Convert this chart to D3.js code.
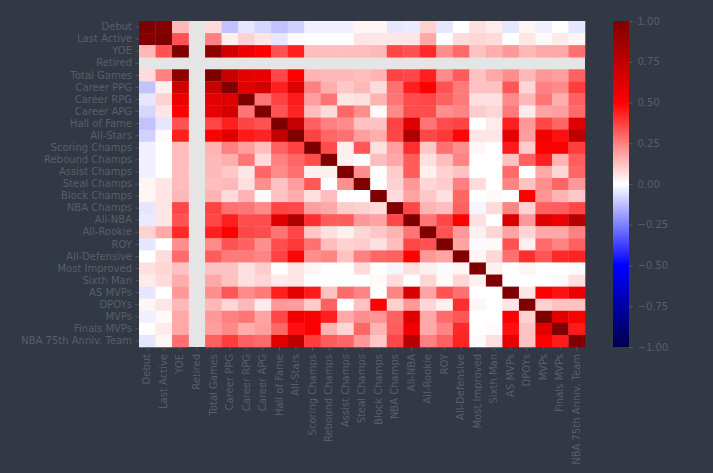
<!DOCTYPE html>
<html>
<head>
<meta charset="utf-8">
<script src="https://cdn.jsdelivr.net/npm/d3@7"></script>
<style>
  html, body { margin: 0; padding: 0; background: #323844; }
  svg { display: block; }
  text { font-family: "DejaVu Sans", sans-serif; font-size: 10px; fill: #5a5f68; }
</style>
</head>
<body>
<svg id="chart"></svg>
<script>
// variable names, same order on both axes
const labels = [
  'Debut', 'Last Active', 'YOE', 'Retired', 'Total Games', 'Career PPG',
  'Career RPG', 'Career APG', 'Hall of Fame', 'All-Stars', 'Scoring Champs',
  'Rebound Champs', 'Assist Champs', 'Steal Champs', 'Block Champs',
  'NBA Champs', 'All-NBA', 'All-Rookie', 'ROY', 'All-Defensive',
  'Most Improved', 'Sixth Man', 'AS MVPs', 'DPOYs', 'MVPs', 'Finals MVPs',
  'NBA 75th Anniv. Team'
]

// lower triangle of the correlation matrix (row i holds columns 0..i), null = NaN
const corrLower = [
  [1],
  [0.97, 1],
  [0.14, 0.34, 1],
  [null, null, null, null],
  [0.07, 0.25, 0.95, null, 1],
  [-0.12, 0.03, 0.69, null, 0.72, 1],
  [-0.05, 0.09, 0.57, null, 0.6, 0.62, 1],
  [-0.08, 0.05, 0.5, null, 0.59, 0.67, 0.27, 1],
  [-0.12, -0.05, 0.34, null, 0.36, 0.44, 0.37, 0.34, 1],
  [-0.09, 0.01, 0.44, null, 0.5, 0.63, 0.45, 0.43, 0.73, 1],
  [-0.03, 0, 0.13, null, 0.15, 0.25, 0.19, 0.13, 0.31, 0.37, 1],
  [-0.03, 0, 0.13, null, 0.14, 0.16, 0.27, 0.07, 0.25, 0.3, 0.35, 1],
  [-0.03, 0, 0.13, null, 0.14, 0.11, 0.05, 0.3, 0.23, 0.28, 0.03, 0.03, 1],
  [0.02, 0.05, 0.13, null, 0.13, 0.14, 0.06, 0.22, 0.12, 0.19, 0.33, 0, 0.22, 1],
  [0.02, 0.05, 0.14, null, 0.15, 0.07, 0.15, 0.01, 0.12, 0.16, 0.06, 0.13, 0, 0, 1],
  [-0.05, 0.05, 0.36, null, 0.37, 0.28, 0.27, 0.23, 0.37, 0.36, 0.19, 0.17, 0.1, 0.09, 0.07, 1],
  [-0.04, 0.05, 0.34, null, 0.36, 0.44, 0.35, 0.35, 0.62, 0.82, 0.41, 0.32, 0.32, 0.2, 0.18, 0.36, 1],
  [0.09, 0.17, 0.42, null, 0.44, 0.5, 0.36, 0.35, 0.27, 0.36, 0.11, 0.06, 0.03, 0.08, 0.11, 0.15, 0.27, 1],
  [-0.05, 0, 0.22, null, 0.23, 0.34, 0.31, 0.22, 0.35, 0.39, 0.28, 0.13, 0.09, 0.1, 0.06, 0.13, 0.36, 0.34, 1],
  [0, 0.07, 0.29, null, 0.32, 0.26, 0.26, 0.24, 0.37, 0.49, 0.22, 0.24, 0.12, 0.25, 0.3, 0.31, 0.5, 0.2, 0.18, 1],
  [0.06, 0.08, 0.12, null, 0.12, 0.12, 0.06, 0.1, 0, 0.05, 0.02, 0, 0, 0.07, 0, -0.02, 0.06, 0.03, -0.01, 0.02, 1],
  [0.04, 0.07, 0.16, null, 0.17, 0.12, 0.06, 0.08, 0.04, 0.05, 0, 0, 0, 0, 0.01, 0.07, 0, 0.08, 0.01, 0.08, 0.03, 1],
  [-0.05, 0, 0.2, null, 0.22, 0.33, 0.23, 0.26, 0.44, 0.6, 0.45, 0.12, 0.29, 0.24, 0, 0.24, 0.65, 0.18, 0.34, 0.28, 0, 0, 1],
  [0.02, 0.05, 0.14, null, 0.14, 0.08, 0.14, 0.04, 0.2, 0.19, 0.1, 0.31, 0, 0.12, 0.5, 0.09, 0.2, 0.08, 0.03, 0.41, 0.02, 0, 0.05, 1],
  [-0.03, 0.01, 0.17, null, 0.2, 0.25, 0.27, 0.18, 0.36, 0.55, 0.52, 0.44, 0.17, 0.22, 0.21, 0.31, 0.62, 0.17, 0.29, 0.33, 0, 0, 0.5, 0.09, 1],
  [0, 0.04, 0.17, null, 0.19, 0.23, 0.16, 0.19, 0.3, 0.47, 0.52, 0.15, 0.08, 0.3, 0.15, 0.32, 0.56, 0.17, 0.24, 0.42, 0, 0.01, 0.47, 0.12, 0.62, 1],
  [-0.05, 0.02, 0.28, null, 0.31, 0.38, 0.31, 0.29, 0.62, 0.76, 0.38, 0.32, 0.3, 0.2, 0.11, 0.36, 0.78, 0.25, 0.31, 0.43, -0.01, 0.06, 0.58, 0.12, 0.51, 0.45, 1]
]

// colorbar ticks
const cbarTicks = [1, 0.75, 0.5, 0.25, 0, -0.25, -0.5, -0.75, -1]

const width = 713
const height = 473
const plot = { left: 139, right: 585, top: 21, bottom: 347 }
const cbar = { left: 613, right: 629 }
const textColor = '#5a5f68'

// seismic colormap
const color = d3.scaleLinear()
  .domain([-1, -0.5, 0, 0.5, 1])
  .range(['#00004c', '#0000ff', '#ffffff', '#ff0000', '#7f0000'])
  .clamp(true)

// expand the triangle into cells
const cells = []
labels.forEach((rowName, i) => {
  labels.forEach((colName, j) => {
    const v = j <= i ? corrLower[i][j] : corrLower[j][i]
    cells.push({ row: rowName, col: colName, value: v })
  })
})

const svg = d3.select('#chart')
  .attr('width', width)
  .attr('height', height)

svg.append('rect')
  .attr('width', width)
  .attr('height', height)
  .attr('fill', '#323844')

const x = d3.scaleBand().domain(labels).range([plot.left, plot.right])
const y = d3.scaleBand().domain(labels).range([plot.top, plot.bottom])

// NaN cells show the axes face colour
svg.append('rect')
  .attr('x', plot.left)
  .attr('y', plot.top)
  .attr('width', plot.right - plot.left)
  .attr('height', plot.bottom - plot.top)
  .attr('fill', '#e5e5e5')

svg.append('g')
  .selectAll('rect')
  .data(cells.filter(d => d.value !== null))
  .join('rect')
  .attr('x', d => x(d.col))
  .attr('y', d => y(d.row))
  .attr('width', x.bandwidth() + 0.3)
  .attr('height', y.bandwidth() + 0.3)
  .attr('fill', d => color(d.value))

// axes
const styleAxis = g => {
  g.select('.domain').remove()
  g.selectAll('line').attr('stroke', textColor).attr('stroke-width', 0.8)
  g.selectAll('text').attr('fill', textColor)
    .style('font-family', '"DejaVu Sans", sans-serif').style('font-size', '10px')
}

svg.append('g')
  .attr('transform', `translate(${plot.left},0)`)
  .call(d3.axisLeft(y).tickSize(3.5).tickPadding(3.5))
  .call(styleAxis)

svg.append('g')
  .attr('transform', `translate(0,${plot.bottom})`)
  .call(d3.axisBottom(x).tickSize(3.5).tickPadding(3.5))
  .call(styleAxis)
  .call(g => g.selectAll('text')
    .attr('transform', 'rotate(-90)')
    .attr('text-anchor', 'end')
    .attr('x', -7)
    .attr('y', 0)
    .attr('dy', '0.32em'))

// colorbar
const cy = d3.scaleLinear().domain([-1, 1]).range([plot.bottom, plot.top])

const grad = svg.append('defs').append('linearGradient')
  .attr('id', 'cbar')
  .attr('x1', 0).attr('y1', 1).attr('x2', 0).attr('y2', 0)

grad.selectAll('stop')
  .data(d3.range(0, 1.0001, 0.05))
  .join('stop')
  .attr('offset', d => d)
  .attr('stop-color', d => color(d * 2 - 1))

svg.append('rect')
  .attr('x', cbar.left)
  .attr('y', plot.top)
  .attr('width', cbar.right - cbar.left)
  .attr('height', plot.bottom - plot.top)
  .attr('fill', 'url(#cbar)')

svg.append('g')
  .attr('transform', `translate(${cbar.right},0)`)
  .call(d3.axisRight(cy).tickValues(cbarTicks).tickSize(3.5).tickPadding(5)
    .tickFormat(d => d3.format('.2f')(d).replace('-', '\u2212')))
  .call(styleAxis)
</script>
</body>
</html>
